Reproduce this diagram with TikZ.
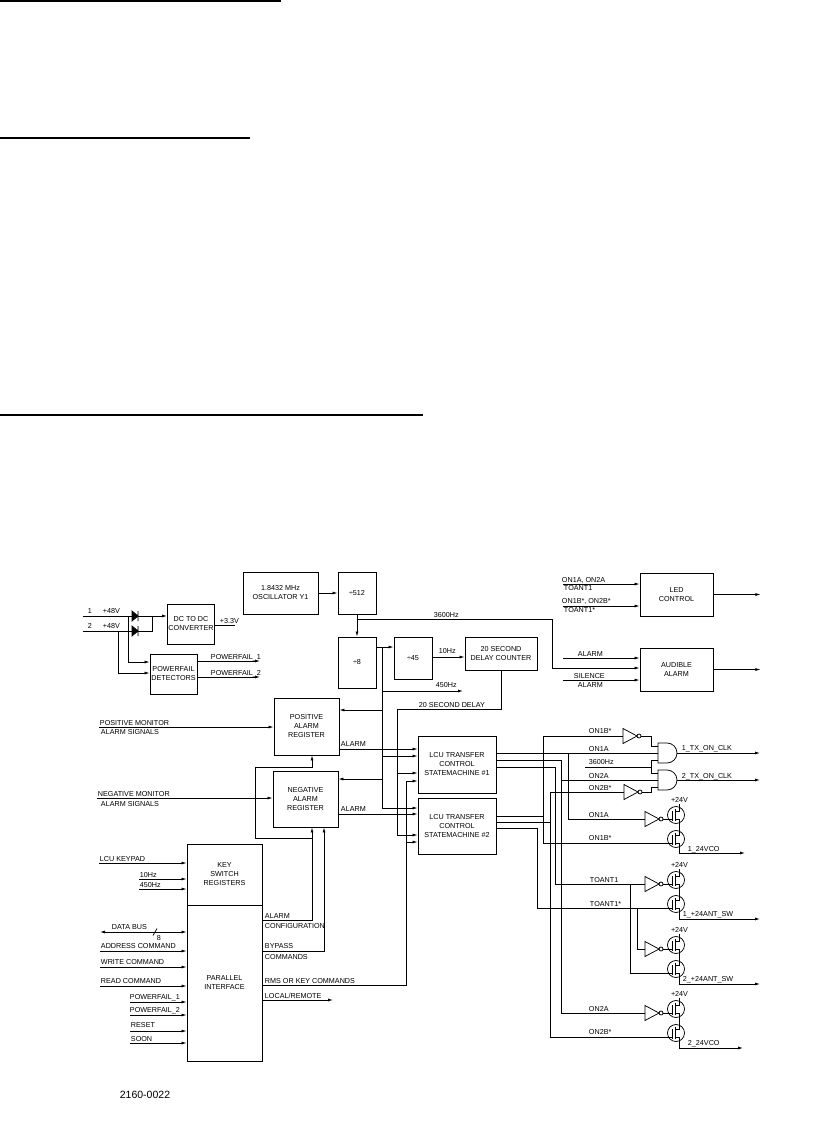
\documentclass[tikz,border=0pt]{standalone}
\usepackage{fontspec}
\setmainfont{Liberation Sans}
\usetikzlibrary{arrows.meta}

\tikzset{
  blk/.style={draw,line width=0.9pt,align=center,inner sep=1pt},
  arr/.style={-{Latex[length=5pt,width=3pt]}},
  biarr/.style={{Latex[length=5pt,width=3pt]}-{Latex[length=5pt,width=3pt]}},
  lbl/.style={inner sep=0.6pt},
  inv/.pic={
    \draw (0,-7.5) -- (14,0) -- (0,7.5) -- cycle (16,0) circle (2pt);
    \coordinate (-in) at (0,0);
    \coordinate (-out) at (18,0);
  },
  andg/.pic={
    \draw (0,-10) -- (9,-10) arc[start angle=90,end angle=-90,radius=10pt] -- (0,10) -- cycle;
    \coordinate (-a) at (0,-7);
    \coordinate (-b) at (0,0);
    \coordinate (-c) at (0,7);
    \coordinate (-out) at (19,0);
  },
  fet/.pic={
    \draw (0,0) circle (8.5pt);
    \draw (-3.5,-4) -- (-3.5,6) (-1,-6) -- (-1,6);
    \draw (-1,-4) -- (3.5,-4) -- (3.5,-8.5) (-1,4) -- (3.5,4) -- (3.5,8.5);
    \draw (-9,4) -- (-3.5,4);
    \coordinate (-g) at (-9,4);
    \coordinate (-d) at (3.5,-8.5);
    \coordinate (-s) at (3.5,8.5);
  }
}

\begin{document}
\begin{tikzpicture}[x=1pt,y=-1pt,line width=0.75pt,font=\fontsize{7.2}{9}\selectfont]
\useasboundingbox (0,0) rectangle (818,1126);

% page rules
\draw[line width=1.8pt] (0,0.9) -- (281,0.9) (0,138) -- (250,138) (0,415) -- (423,415);

% blocks
\node[blk,minimum width=46pt,minimum height=40pt] (dcdc) at (191,624) {DC TO DC\\CONVERTER};
\node[blk,minimum width=75pt,minimum height=42pt] (osc) at (280.5,593) {1.8432 MHz\\OSCILLATOR Y1};
\node[blk,minimum width=47pt,minimum height=40pt] (pfdet) at (173.5,674) {POWERFAIL\\DETECTORS};
\node[blk,minimum width=38pt,minimum height=42pt] (dvA) at (357,593) {÷512};
\node[blk,minimum width=38pt,minimum height=51pt] (dvB) at (357,662.5) {÷8};
\node[blk,minimum width=38pt,minimum height=42pt] (dvC) at (413,658) {÷45};
\node[blk,minimum width=72pt,minimum height=33pt] (delay) at (501,653.5) {20 SECOND\\DELAY COUNTER};
\node[blk,minimum width=65pt,minimum height=57pt] (posreg) at (306.5,726.5) {POSITIVE\\ALARM\\REGISTER};
\node[blk,minimum width=65pt,minimum height=56pt] (negreg) at (305.5,799) {NEGATIVE\\ALARM\\REGISTER};
\node[blk,minimum width=78pt,minimum height=57pt] (smA) at (457,764.5) {LCU TRANSFER\\CONTROL\\STATEMACHINE \#1};
\node[blk,minimum width=78pt,minimum height=56pt] (smB) at (457,826) {LCU TRANSFER\\CONTROL\\STATEMACHINE \#2};
\node[blk,minimum width=75pt,minimum height=61pt] (keysw) at (224.5,874.5) {KEY\\SWITCH\\REGISTERS};
\node[blk,minimum width=75pt,minimum height=156pt] (parif) at (224.5,983) {PARALLEL\\INTERFACE};
\node[blk,minimum width=73pt,minimum height=43pt] (led) at (676.5,594.5) {LED\\CONTROL};
\node[blk,minimum width=73pt,minimum height=43pt] (aud) at (676.5,669.5) {AUDIBLE\\ALARM};

% +48V inputs and diodes
\coordinate (p1) at (83,616);
\coordinate (p2) at (83,631);
\coordinate (jn) at (152,616);
\draw[arr] (p1) -- (p1 -| dcdc.west);
\draw (p2) -- (p2 -| jn) -- (jn);
\filldraw (132,611) -- (138,616) -- (132,621) -- cycle (138,611) -- (138,621);
\filldraw (132,626) -- (138,631) -- (132,636) -- cycle (138,626) -- (138,636);
\draw[arr] (128,616) |- ([yshift=12pt]pfdet.west);
\draw[arr] (118,631) |- ([yshift=1pt]pfdet.west);
\node[lbl,anchor=base west] at (87,613) {1};
\node[lbl,anchor=base west] at (102,613) {+48V};
\node[lbl,anchor=base west] at (87,628) {2};
\node[lbl,anchor=base west] at (102,628) {+48V};
\draw (dcdc.east |- 0,625) -- (235,625);
\node[lbl,anchor=base west] at (219,623) {+3.3V};
\draw[arr] (pfdet.east |- 0,661) -- (260,661);
\draw[arr] (pfdet.east |- 0,677) -- (260,677);
\node[lbl,anchor=base west] at (210,659) {POWERFAIL\_1};
\node[lbl,anchor=base west] at (210,675) {POWERFAIL\_2};

% clock chain
\draw[arr] (osc) -- (dvA);
\draw[arr] (dvA) -- (dvB);
\draw[arr] (357,619) -| (552,668) -- (aud.west |- 0,668);
\node[lbl,anchor=base west] at (433,617) {3600Hz};
\draw[arr] (dvB.east |- 0,647) -- (dvC.west |- 0,647);
\draw[arr] (dvC.east |- 0,657) -- (delay.west |- 0,657);
\node[lbl,anchor=base west] at (438,653) {10Hz};
\draw (382,647) -- (382,808);
\draw[arr] (382,691) -- (463,691);
\node[lbl,anchor=base west] at (435,687) {450Hz};
\draw[arr] (382,710) -- (posreg.east |- 0,710);
\draw[arr] (382,756) -- (smA.west |- 0,756);
\draw[arr] (382,779) -- (negreg.east |- 0,779);
\draw[arr] (382,808) -- (smB.west |- 0,808);
\draw (delay.south) |- (397,709) -- (397,835);
\node[lbl,anchor=base west] at (418,707) {20 SECOND DELAY};
\draw[arr] (397,773) -- (smA.west |- 0,773);
\draw[arr] (397,835) -- (smB.west |- 0,835);

% alarm registers
\draw[arr] (99,727) -- (posreg.west |- 0,727);
\node[lbl,anchor=base west] at (99,725) {POSITIVE MONITOR};
\node[lbl,anchor=base west] at (100,734) {ALARM SIGNALS};
\draw[arr] (97,798) -- (negreg.west |- 0,798);
\node[lbl,anchor=base west] at (97,796) {NEGATIVE MONITOR};
\node[lbl,anchor=base west] at (100,806) {ALARM SIGNALS};
\draw[arr] (posreg.east |- 0,749) -- (smA.west |- 0,749);
\node[lbl,anchor=base west] at (340,746) {ALARM};
\draw[arr] (negreg.east |- 0,814) -- (smB.west |- 0,814);
\node[lbl,anchor=base west] at (340,811) {ALARM};

% key switch and parallel interface inputs
\draw[arr] (99,863) -- (keysw.west |- 0,863);
\node[lbl,anchor=base west] at (99,861) {LCU KEYPAD};
\draw[arr] (139,879) -- (keysw.west |- 0,879);
\node[lbl,anchor=base west] at (139,877) {10Hz};
\draw[arr] (139,889) -- (keysw.west |- 0,889);
\node[lbl,anchor=base west] at (139,887) {450Hz};
\draw[biarr] (100,932) -- (parif.west |- 0,932);
\node[lbl,anchor=base west] at (111,929) {DATA BUS};
\draw (153,935.5) -- (157,928.5);
\node[lbl,anchor=base west] at (156,940) {8};
\draw[arr] (100,951) -- (parif.west |- 0,951);
\node[lbl,anchor=base west] at (100,948) {ADDRESS COMMAND};
\draw[arr] (100,967) -- (parif.west |- 0,967);
\node[lbl,anchor=base west] at (100,964) {WRITE COMMAND};
\draw[arr] (100,986) -- (parif.west |- 0,986);
\node[lbl,anchor=base west] at (100,983) {READ COMMAND};
\draw[arr] (130,1002) -- (parif.west |- 0,1002);
\node[lbl,anchor=base west] at (129,999) {POWERFAIL\_1};
\draw[arr] (130,1015) -- (parif.west |- 0,1015);
\node[lbl,anchor=base west] at (129,1012) {POWERFAIL\_2};
\draw[arr] (130,1031) -- (parif.west |- 0,1031);
\node[lbl,anchor=base west] at (130,1027) {RESET};
\draw[arr] (130,1043) -- (parif.west |- 0,1043);
\node[lbl,anchor=base west] at (130,1041) {SOON};

% parallel interface outputs
\draw[arr] (parif.east |- 0,920) -| (negreg.south -| 312,0);
\draw[arr] (312,838) -- (255,838) -- (255,767) -| (posreg.south -| 312,0);
\node[lbl,anchor=base west] at (264,918) {ALARM};
\node[lbl,anchor=base west] at (264,928) {CONFIGURATION};
\draw[arr] (parif.east |- 0,951) -| (negreg.south -| 324,0);
\node[lbl,anchor=base west] at (264,948) {BYPASS};
\node[lbl,anchor=base west] at (264,959) {COMMANDS};
\draw (parif.east |- 0,985) -| (406,781);
\draw[arr] (406,781) -- (smA.west |- 0,781);
\draw[arr] (406,842) -- (smB.west |- 0,842);
\node[lbl,anchor=base west] at (264,983) {RMS OR KEY COMMANDS};
\draw[arr] (parif.east |- 0,1000) -- (333,1000);
\node[lbl,anchor=base west] at (264,998) {LOCAL/REMOTE};

% LED control and audible alarm
\draw[arr] (563,584) -- (led.west |- 0,584);
\node[lbl,anchor=base west] at (561,582) {ON1A, ON2A};
\node[lbl,anchor=base west] at (563,590) {TOANT1};
\draw[arr] (563,606) -- (led.west |- 0,606);
\node[lbl,anchor=base west] at (561,603) {ON1B*, ON2B*};
\node[lbl,anchor=base west] at (563,612) {TOANT1*};
\draw[arr] (led.east) -- ++(47,0);
\draw[arr] (563,658) -- (aud.west |- 0,658);
\node[lbl,anchor=base west] at (577,656) {ALARM};
\draw[arr] (563,680) -- (aud.west |- 0,680);
\node[lbl,anchor=base west] at (573,678) {SILENCE};
\node[lbl,anchor=base west] at (577,687) {ALARM};
\draw[arr] (aud.east) -- ++(47,0);

% gates
\pic (iA) at (623,736) {inv};
\pic (iB) at (624,792) {inv};
\pic (gA) at (658,753) {andg};
\pic (gB) at (658,780) {andg};
\pic (iC) at (645,819) {inv};
\pic (iD) at (645,884) {inv};
\pic (iE) at (645,949) {inv};
\pic (iF) at (645,1013) {inv};
\pic (q1) at (676,815) {fet};
\pic (q2) at (676,839) {fet};
\pic (q3) at (676,880) {fet};
\pic (q4) at (676,904) {fet};
\pic (q5) at (676,945) {fet};
\pic (q6) at (676,969) {fet};
\pic (q7) at (676,1009) {fet};
\pic (q8) at (676,1033) {fet};

% clock gates
\draw (iA-out) -- (651,736) |- (gA-a);
\draw (iB-out) -- (651,792) |- (gB-c);
\draw (585,767) -- (651,767) (gA-c) -| (651,773) -- (gB-a);
\draw[arr] (gA-out) -- (760,753);
\draw[arr] (gB-out) -- (760,780);
\node[lbl,anchor=base west] at (681,750) {1\_TX\_ON\_CLK};
\node[lbl,anchor=base west] at (681,778) {2\_TX\_ON\_CLK};

% statemachine outputs
\draw (smA.east |- 0,753) -- (gA-b);
\draw (568,753) |- (iC-in);
\draw (smA.east |- 0,760) -| (561,1013) -- (iF-in);
\draw (561,780) -- (gB-b);
\draw (smA.east |- 0,767) -| (555,884) -- (iD-in);
\draw (smB.east |- 0,816) -| (543,736) -- (iA-in);
\draw (543,816) |- (q2-g);
\draw (smB.east |- 0,822) -| (550,792) -- (iB-in);
\draw (550,822) |- (q8-g);
\draw (smB.east |- 0,828) -| (537,908) -- (q4-g);
\draw (637,908) |- (iE-in);
\draw (630,884) |- (q6-g);
\node[lbl,anchor=base west] at (588,733) {ON1B*};
\node[lbl,anchor=base west] at (588,751) {ON1A};
\node[lbl,anchor=base west] at (588,764) {3600Hz};
\node[lbl,anchor=base west] at (588,778) {ON2A};
\node[lbl,anchor=base west] at (588,790) {ON2B*};
\node[lbl,anchor=base west] at (588,817) {ON1A};
\node[lbl,anchor=base west] at (588,840) {ON1B*};
\node[lbl,anchor=base west] at (589,882) {TOANT1};
\node[lbl,anchor=base west] at (589,906) {TOANT1*};
\node[lbl,anchor=base west] at (588,1011) {ON2A};
\node[lbl,anchor=base west] at (588,1034) {ON2B*};

% switch transistors
\draw (iC-out) -- (q1-g) (iD-out) -- (q3-g) (iE-out) -- (q5-g) (iF-out) -- (q7-g);
\draw (q1-d) -- ++(0,-3) node[lbl,above] {+24V};
\draw (q3-d) -- ++(0,-3) node[lbl,above] {+24V};
\draw (q5-d) -- ++(0,-3) node[lbl,above] {+24V};
\draw (q7-d) -- ++(0,-3) node[lbl,above] {+24V};
\draw (q1-s) -- (q2-d) (q3-s) -- (q4-d) (q5-s) -- (q6-d) (q7-s) -- (q8-d);
\draw[arr] (q2-s) |- (745,853);
\node[lbl,anchor=base west] at (687,851) {1\_24VCO};
\draw[arr] (q4-s) |- (760,919);
\node[lbl,anchor=base west] at (682,916) {1\_+24ANT\_SW};
\draw[arr] (q6-s) |- (760,984);
\node[lbl,anchor=base west] at (682,981) {2\_+24ANT\_SW};
\draw[arr] (q8-s) |- (743,1048);
\node[lbl,anchor=base west] at (687,1045) {2\_24VCO};

\node[font=\fontsize{10.5}{12}\selectfont] (fig) at (145,1095) {2160-0022};
\end{tikzpicture}
\end{document}
